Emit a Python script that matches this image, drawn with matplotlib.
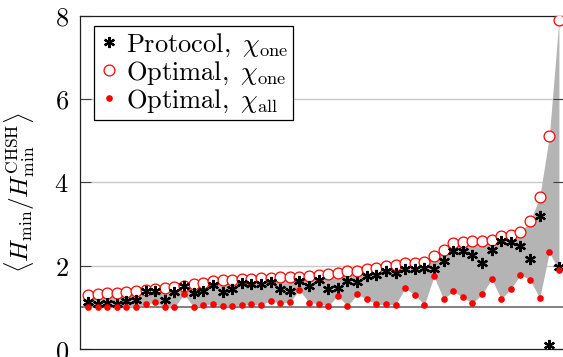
import numpy as np
import matplotlib
matplotlib.use('Agg')
import matplotlib.pyplot as plt

plt.rcParams['mathtext.fontset'] = 'cm'
plt.rcParams['axes.unicode_minus'] = False

# 数据
protocol_one = [1.12, 1.08, 1.10, 1.07, 1.15, 1.18, 1.38, 1.39, 1.18, 1.36,
                1.50, 1.34, 1.38, 1.54, 1.36, 1.45, 1.59, 1.56, 1.56, 1.60,
                1.45, 1.39, 1.64, 1.52, 1.66, 1.43, 1.46, 1.64, 1.60, 1.74,
                1.78, 1.86, 1.82, 1.92, 1.92, 1.94, 1.92, 2.10, 2.36, 2.36,
                2.26, 2.07, 2.38, 2.58, 2.56, 2.46, 2.16, 3.18, 0.10, 1.96]
optimal_one = [1.30, 1.33, 1.34, 1.35, 1.37, 1.40, 1.42, 1.44, 1.46, 1.48,
               1.52, 1.55, 1.58, 1.62, 1.65, 1.66, 1.68, 1.69, 1.70, 1.70,
               1.72, 1.72, 1.73, 1.76, 1.78, 1.80, 1.82, 1.86, 1.88, 1.92,
               1.95, 1.98, 2.01, 2.06, 2.07, 2.09, 2.24, 2.38, 2.54, 2.56,
               2.58, 2.59, 2.62, 2.72, 2.74, 2.80, 3.06, 3.64, 5.10, 7.90]
optimal_all = [1.00, 1.00, 1.00, 1.00, 1.00, 1.00, 1.08, 1.12, 1.00, 1.00,
               1.32, 1.00, 1.05, 1.09, 1.02, 1.04, 1.06, 1.07, 1.06, 1.16,
               1.10, 1.12, 1.42, 1.11, 1.09, 1.03, 1.28, 1.03, 1.31, 1.20,
               1.07, 1.07, 1.06, 1.46, 1.30, 1.06, 1.74, 1.20, 1.38, 1.24,
               1.10, 1.31, 1.68, 1.20, 1.44, 1.78, 1.66, 1.22, 2.32, 1.90]
yticks = [0, 2, 4, 6, 8]

x = np.arange(len(optimal_one))
fs = 19

fig = plt.figure(figsize=(5.63, 3.57), dpi=100)
ax = fig.add_axes([80 / 563, 8 / 357, 484 / 563, 333.4 / 357])

ax.fill_between(x, optimal_all, optimal_one, color='#b4b4b4', lw=0, zorder=1)
for v in yticks[1:-1]:
    ax.axhline(v, color='#c8c8c8', lw=1.0, zorder=0.5)
ax.axhline(1, color='#808080', lw=1.4, zorder=0.6)

ax.plot(x, optimal_one, ls='none', marker='o', ms=7.8, mfc='white', mec='red',
        mew=0.9, zorder=3, label=r'$\mathrm{Optimal,}\ \chi_{\mathrm{one}}$')
ax.plot(x, protocol_one, ls='none', marker=(6, 2, 0), ms=8, mec='black',
        mew=1.6, zorder=4, label=r'$\mathrm{Protocol,}\ \chi_{\mathrm{one}}$')
ax.plot(x, optimal_all, ls='none', marker='o', ms=4.8, mfc='red', mec='red',
        mew=0, zorder=5, label=r'$\mathrm{Optimal,}\ \chi_{\mathrm{all}}$')

ax.set_xlim(-0.83, 49.53)
ax.set_ylim(0, 8)
ax.set_xticks([])
ax.set_yticks(yticks)
ax.set_yticklabels([f'${v}$' for v in yticks], fontsize=fs)
ax.tick_params(axis='y', direction='in', length=8, width=0.8, color='#404040',
               right=True, pad=8)
for s in ax.spines.values():
    s.set_linewidth(0.9)
    s.set_color('#202020')
ax.spines['right'].set_visible(False)

ax.set_ylabel(r'$\langle H_{\min}/H_{\min}^{\mathrm{CHSH}}\rangle$', fontsize=18)
ax.yaxis.set_label_coords(-0.088, 0.47)

h, l = ax.get_legend_handles_labels()
order = [1, 0, 2]
leg = ax.legend([h[i] for i in order], [l[i] for i in order],
                loc='upper left', bbox_to_anchor=(0.029, 0.969), borderaxespad=0,
                fontsize=fs, fancybox=False, edgecolor='black', framealpha=1,
                handlelength=0.7, handletextpad=0.3, labelspacing=0.02,
                borderpad=0.2)
leg.get_frame().set_linewidth(0.9)

fig.savefig('out.png', dpi=100)
